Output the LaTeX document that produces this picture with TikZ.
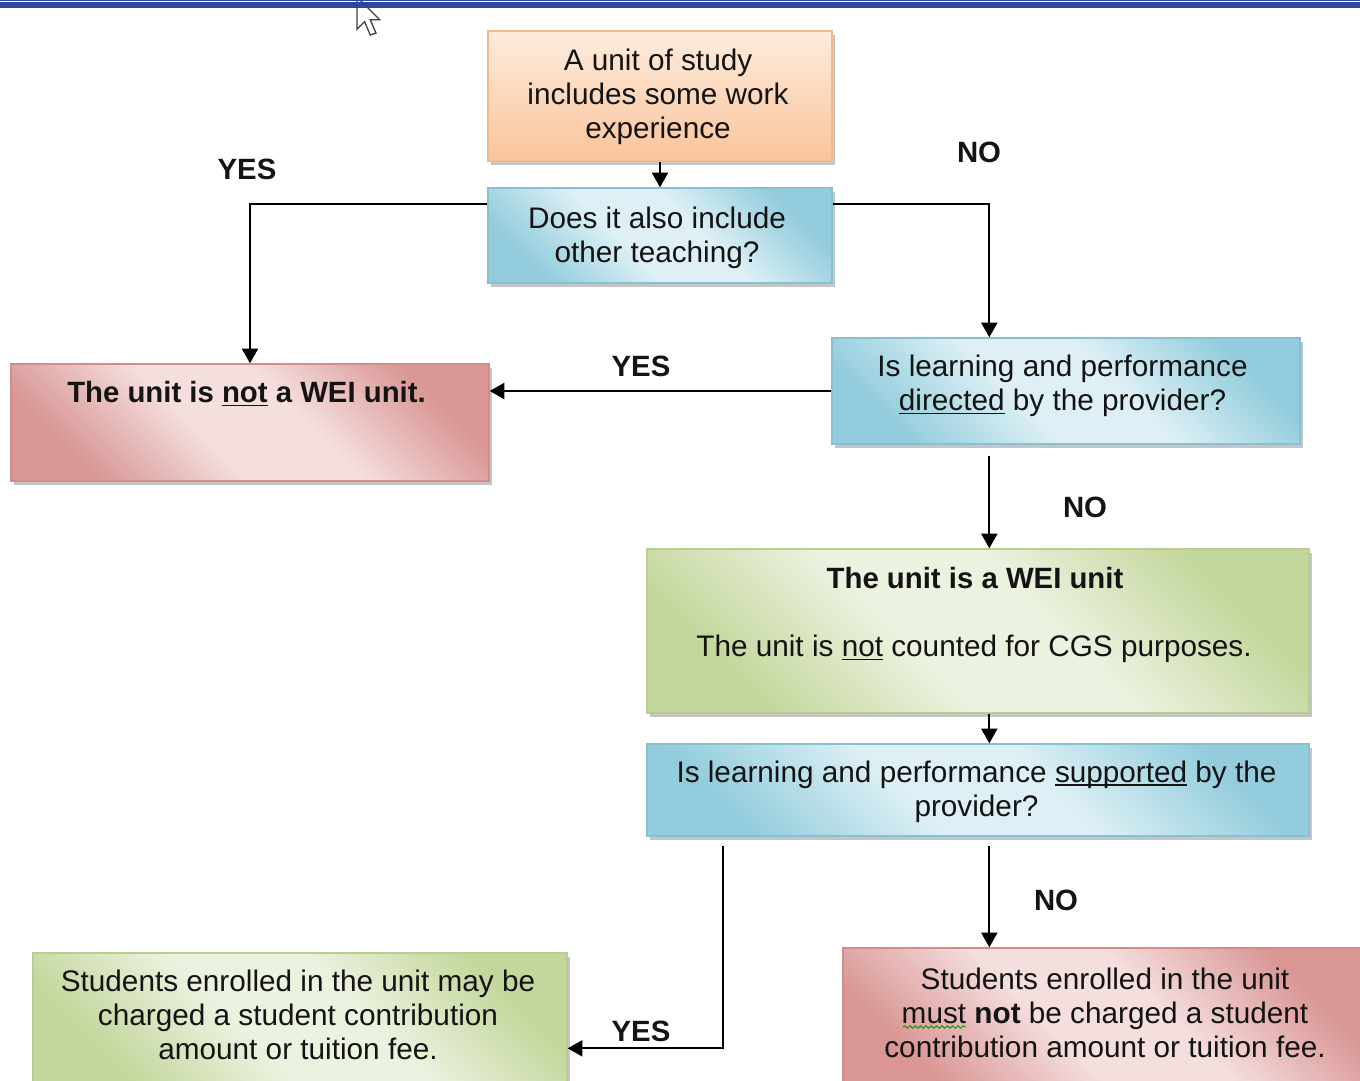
\documentclass[tikz,border=0pt]{standalone}
\usepackage{fontspec}
\setmainfont{Liberation Sans}
\newcommand{\undl}[1]{\setbox0\hbox{#1}\rlap{\rule[-2.6pt]{\wd0}{1.1pt}}\box0\relax}
\usetikzlibrary{arrows.meta,calc,shadows,decorations.pathmorphing}
\definecolor{barblue}{RGB}{46,72,158}
\definecolor{orTop}{RGB}{253,236,222}
\definecolor{orBot}{RGB}{250,196,154}
\definecolor{orLine}{RGB}{247,185,137}
\definecolor{blDark}{RGB}{147,205,221}
\definecolor{blLight}{RGB}{222,240,245}
\definecolor{blLine}{RGB}{134,192,210}
\definecolor{rdDark}{RGB}{217,150,148}
\definecolor{rdLight}{RGB}{244,222,222}
\definecolor{rdLine}{RGB}{210,140,138}
\definecolor{grDark}{RGB}{195,214,155}
\definecolor{grLight}{RGB}{236,242,224}
\definecolor{grLine}{RGB}{185,205,145}
\definecolor{txtcol}{RGB}{20,20,20}
\pgfdeclarehorizontalshading{blshade}{100bp}{color(0bp)=(blDark); color(25bp)=(blDark); color(43bp)=(blLight); color(57bp)=(blLight); color(75bp)=(blDark); color(100bp)=(blDark)}
\pgfdeclarehorizontalshading{rdshade}{100bp}{color(0bp)=(rdDark); color(25bp)=(rdDark); color(43bp)=(rdLight); color(57bp)=(rdLight); color(75bp)=(rdDark); color(100bp)=(rdDark)}
\pgfdeclarehorizontalshading{grshade}{100bp}{color(0bp)=(grDark); color(25bp)=(grDark); color(43bp)=(grLight); color(57bp)=(grLight); color(75bp)=(grDark); color(100bp)=(grDark)}
\tikzset{
  box/.style={rectangle, inner sep=0pt, line width=1pt,
    drop shadow={shadow xshift=2.5pt, shadow yshift=-3pt, fill=black!45, opacity=.5}},
  orbox/.style={box, draw=orLine, top color=orTop, bottom color=orBot},
  bluebox/.style={box, draw=blLine, shading=blshade, shading angle=45},
  redbox/.style={box, draw=rdLine, shading=rdshade, shading angle=45},
  grbox/.style={box, draw=grLine, shading=grshade, shading angle=45},
  txt/.style={align=center, inner sep=0pt, text=txtcol, font=\fontsize{22.3pt}{25.5pt}\selectfont},
  btxt/.style={txt, font=\fontsize{22pt}{25.5pt}\selectfont\bfseries},
  lbl/.style={inner sep=0pt, text=txtcol, font=\fontsize{22pt}{25.5pt}\selectfont\bfseries},
  conn/.style={line width=1.5pt, draw=black, -{Triangle[length=11pt,width=12pt]}}
}
\begin{document}
\begin{tikzpicture}[x=0.75pt,y=-0.75pt]
\useasboundingbox (0,0) rectangle (1360,1081);
% cursor
\filldraw[fill=white, draw=black!75, line width=1pt]
  (357,-3) -- (357,29.3) -- (364.6,21.7) -- (370.3,35) -- (376,33.1) -- (370.3,19.8) -- (379.8,19.8) -- cycle;
% top bar
\fill[barblue] (0,0) rectangle (1360,1.3);
\fill[barblue] (0,2.5) rectangle (1360,7.8);

% boxes
\node[orbox, minimum width=258pt, minimum height=97.5pt] (start) at (660,96) {};
\node[txt] (startT) at (658,96.5) {A unit of study\\includes some work\\experience};

\node[bluebox, minimum width=258pt, minimum height=71.25pt] (q1) at (660,235.5) {};
\node[txt] (q1T) at (657,237.5) {Does it also include\\other teaching?};

\node[redbox, minimum width=358.5pt, minimum height=87.75pt] (notwei) at (250,422.5) {};
\node[btxt] (notweiT) at (246.5,394) {The unit is \undl{not} a WEI unit.};

\node[bluebox, minimum width=351pt, minimum height=79.5pt] (q2) at (1066,391) {};
\node[txt] (q2T) at (1062.5,386) {Is learning and performance\\\undl{directed} by the provider?};

\node[grbox, minimum width=496.5pt, minimum height=123pt] (wei) at (978,631) {};
\node[btxt] (weiT) at (975,578) {The unit is a WEI unit};
\node[txt] (weiS) at (974,649) {The unit is \undl{not} counted for CGS purposes.};

\node[bluebox, minimum width=496.5pt, minimum height=69pt] (q3) at (978,790) {};
\node[txt] (q3T) at (976.5,791.5) {Is learning and performance \undl{supported} by the\\provider?};

\node[grbox, minimum width=400.5pt, minimum height=99pt] (may) at (300,1019) {};
\node[txt] (mayT) at (298,1015) {Students enrolled in the unit may be\\charged a student contribution\\amount or tuition fee.};

\node[redbox, minimum width=391.5pt, minimum height=102.75pt] (mustnot) at (1104,1016.5) {};
\node[txt] (mustnotT) at (1105,1013) {Students enrolled in the unit\\must \textbf{not} be charged a student\\contribution amount or tuition fee.};
\draw[green!60!black, line width=0.7pt, decorate, decoration={snake, amplitude=0.9pt, segment length=4pt}] (903,1027) -- (966,1027);

% labels
\node[lbl] (yes1) at (247,169) {YES};
\node[lbl] (no1) at (979,152) {NO};
\node[lbl] (yes2) at (641,366) {YES};
\node[lbl] (no2) at (1085,507) {NO};
\node[lbl] (yes3) at (641,1031) {YES};
\node[lbl] (no3) at (1056,900) {NO};

% connectors
\draw[conn] (start.south) -- (q1.north);
\draw[conn] ($(q1.north west)+(0,17)$) -| (notwei.north);
\draw[conn] ($(q1.north east)+(0,17)$) -| ($(q2.north west)+(158,0)$);
\draw[conn] (q2.west) -- (q2.west -| notwei.east);
\draw[conn] ($(q2.south west)+(158,11)$) -- ($(wei.north west)+(343,0)$);
\draw[conn] ($(wei.south west)+(343,0)$) -- ($(q3.north west)+(343,0)$);
\draw[conn] ($(q3.south west)+(77,9)$) |- ($(may.north east)+(0,96)$);
\draw[conn] ($(q3.south west)+(343,9)$) -- ($(mustnot.north west)+(147,0)$);
\end{tikzpicture}
\end{document}
